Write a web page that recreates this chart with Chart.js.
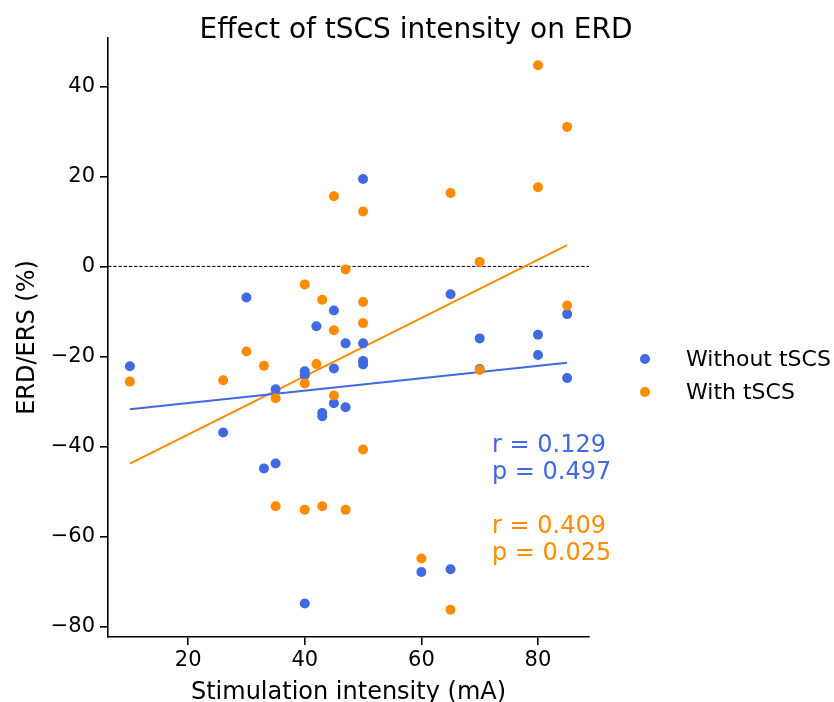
<!DOCTYPE html>
<html>
<head>
<meta charset="utf-8">
<script src="https://cdn.jsdelivr.net/npm/chart.js@4/dist/chart.umd.min.js"></script>
<style>
  html, body { margin: 0; padding: 0; background: #fff; }
  #wrap { width: 834px; height: 702px; }
</style>
</head>
<body>
<div id="wrap"><canvas id="erdChart" width="834" height="702"></canvas></div>
<script>
// stimulation intensity (mA) for each subject
const intensity = [10, 26, 30, 33, 35, 35, 40, 40, 40, 42, 43, 43, 45, 45, 45, 47, 47, 50, 50, 50, 50, 60, 65, 65, 70, 70, 80, 80, 85, 85];
// ERD/ERS (%) values
const withoutTSCS = [-22.2, -36.9, -6.9, -44.9, -43.8, -27.3, -23.3, -24.2, -74.9, -13.3, -32.6, -33.3, -9.8, -22.7, -30.4, -17.1, -31.3, 19.4, -17.1, -21.0, -21.8, -67.9, -6.2, -67.3, -16.0, -22.8, -15.2, -19.7, -10.6, -24.8];
const withTSCS = [-25.6, -25.3, -18.9, -22.1, -29.3, -53.3, -4.0, -26.0, -54.1, -21.7, -7.4, -53.3, 15.6, -14.2, -28.7, -0.7, -54.1, 12.2, -7.9, -12.6, -40.7, -64.9, 16.3, -76.3, 1.0, -23.0, 44.7, 17.6, 31.0, -8.7];

const seriesNames = ["Without tSCS", "With tSCS"];
const seriesColors = ["#4169E1", "#FF8C00"];
const stats = [["r = 0.129", "p = 0.497"], ["r = 0.409", "p = 0.025"]];

const xTicks = [20, 40, 60, 80];
const yTicks = [-80, -60, -40, -20, 0, 20, 40];

const FONT = "'DejaVu Sans', 'Liberation Sans', sans-serif";

function toPoints(ys) {
  return intensity.map((x, i) => ({ x: x, y: ys[i] }));
}

// least squares fit, drawn over the data range
function fitLine(ys) {
  const n = intensity.length;
  const mx = intensity.reduce((a, b) => a + b, 0) / n;
  const my = ys.reduce((a, b) => a + b, 0) / n;
  let sxy = 0, sxx = 0;
  for (let i = 0; i < n; i++) {
    sxy += (intensity[i] - mx) * (ys[i] - my);
    sxx += (intensity[i] - mx) * (intensity[i] - mx);
  }
  const slope = sxy / sxx;
  const icpt = my - slope * mx;
  const x0 = Math.min(...intensity), x1 = Math.max(...intensity);
  return [{ x: x0, y: icpt + slope * x0 }, { x: x1, y: icpt + slope * x1 }];
}

const extras = {
  id: "extras",
  beforeDatasetsDraw(chart) {
    const ctx = chart.ctx;
    const area = chart.chartArea;
    const y0 = chart.scales.y.getPixelForValue(0);
    ctx.save();
    ctx.strokeStyle = "#000";
    ctx.lineWidth = 1;
    ctx.setLineDash([3.5, 1.7]);
    ctx.beginPath();
    ctx.moveTo(area.left, y0);
    ctx.lineTo(area.right, y0);
    ctx.stroke();
    ctx.restore();
  },
  afterDraw(chart) {
    const ctx = chart.ctx;
    const area = chart.chartArea;
    ctx.save();

    // title
    ctx.fillStyle = "#000";
    ctx.font = "28px " + FONT;
    ctx.textAlign = "center";
    ctx.textBaseline = "alphabetic";
    ctx.fillText("Effect of tSCS intensity on ERD", 416, 38);

    // axis titles
    ctx.font = "24px " + FONT;
    ctx.fillText("Stimulation intensity (mA)", (area.left + area.right) / 2, 699);
    ctx.save();
    ctx.translate(34, (area.top + area.bottom) / 2);
    ctx.rotate(-Math.PI / 2);
    ctx.fillText("ERD/ERS (%)", 0, 0);
    ctx.restore();

    // correlation stats
    ctx.textAlign = "left";
    const baselines = [[452, 479], [533, 560]];
    stats.forEach((lines, s) => {
      ctx.fillStyle = seriesColors[s];
      lines.forEach((t, j) => ctx.fillText(t, 492, baselines[s][j]));
    });

    // legend
    ctx.font = "22px " + FONT;
    ctx.textBaseline = "middle";
    seriesNames.forEach((name, s) => {
      const yy = 359 + s * 33;
      ctx.fillStyle = seriesColors[s];
      ctx.beginPath();
      ctx.arc(645, yy, 5, 0, Math.PI * 2);
      ctx.fill();
      ctx.fillStyle = "#000";
      ctx.fillText(name, 686, yy + 1);
    });
    ctx.restore();
  }
};

const ctx = document.getElementById("erdChart").getContext("2d");
new Chart(ctx, {
  type: "scatter",
  data: {
    datasets: [
      {
        label: seriesNames[0],
        data: toPoints(withoutTSCS),
        backgroundColor: seriesColors[0],
        borderWidth: 0,
        pointRadius: 5,
        order: 2
      },
      {
        label: seriesNames[1],
        data: toPoints(withTSCS),
        backgroundColor: seriesColors[1],
        borderWidth: 0,
        pointRadius: 5,
        order: 1
      },
      {
        type: "line",
        data: fitLine(withoutTSCS),
        borderColor: seriesColors[0],
        borderWidth: 2,
        pointRadius: 0,
        order: 3
      },
      {
        type: "line",
        data: fitLine(withTSCS),
        borderColor: seriesColors[1],
        borderWidth: 2,
        pointRadius: 0,
        order: 3
      }
    ]
  },
  options: {
    responsive: false,
    animation: false,
    events: [],
    layout: { padding: { left: 0, right: 245, top: 38, bottom: 0 } },
    plugins: {
      legend: { display: false },
      title: { display: false },
      tooltip: { enabled: false }
    },
    scales: {
      x: {
        type: "linear",
        min: 6.25,
        max: 88.75,
        afterBuildTicks: s => { s.ticks = xTicks.map(v => ({ value: v })); },
        afterFit: s => { s.height = 65; },
        grid: { display: true, drawOnChartArea: false, drawTicks: true, tickLength: 8, color: "#000", lineWidth: 1.6 },
        border: { display: true, color: "#000", width: 1.6 },
        ticks: { color: "#000", font: { family: FONT, size: 21 }, padding: 3, maxRotation: 0 }
      },
      y: {
        type: "linear",
        min: -82.35,
        max: 50.75,
        afterBuildTicks: s => { s.ticks = yTicks.map(v => ({ value: v })); },
        afterFit: s => { s.width = 108; },
        grid: { display: true, drawOnChartArea: false, drawTicks: true, tickLength: 8, color: "#000", lineWidth: 1.6 },
        border: { display: true, color: "#000", width: 1.6 },
        ticks: {
          color: "#000",
          font: { family: FONT, size: 21 },
          padding: 5,
          callback: v => (v < 0 ? "\u2212" + Math.abs(v) : String(v))
        }
      }
    }
  },
  plugins: [extras]
});
</script>
</body>
</html>
